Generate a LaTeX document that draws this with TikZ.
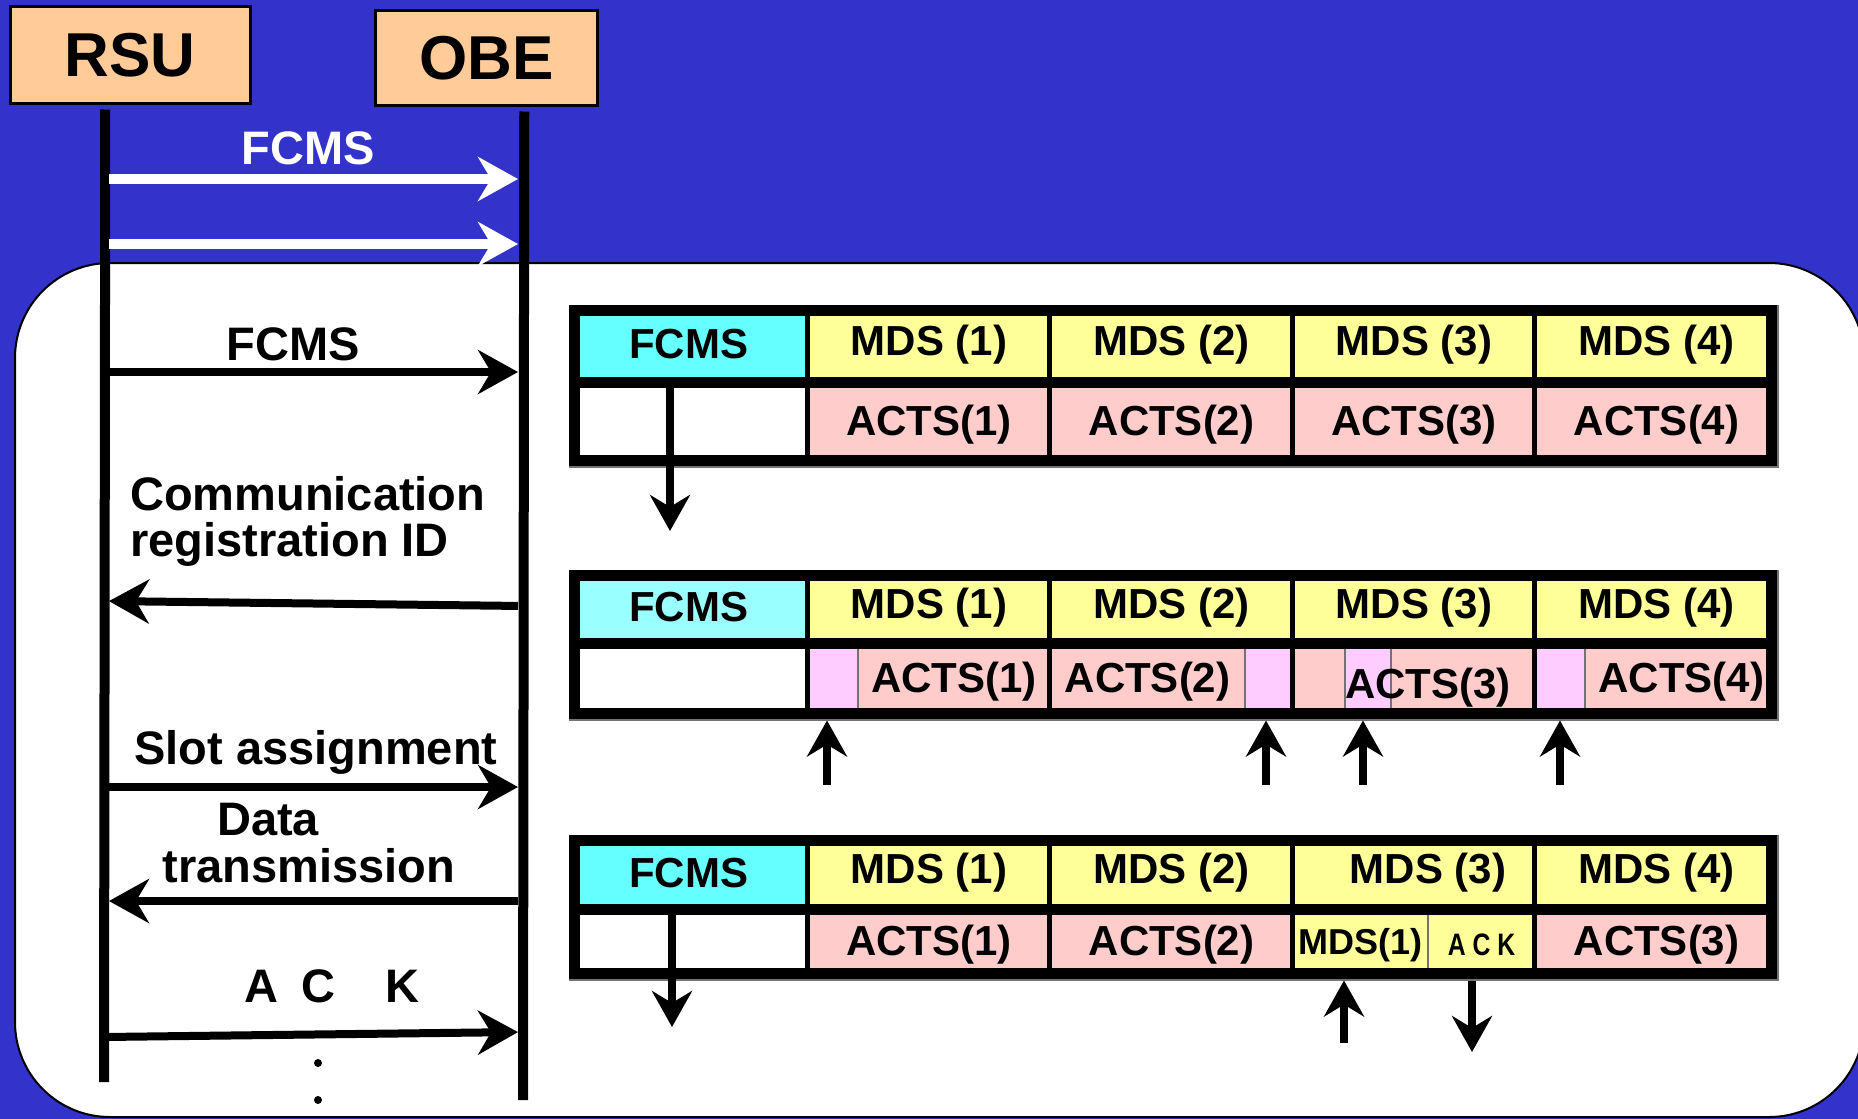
\documentclass[tikz,border=0pt]{standalone}
\usepackage{fontspec}
\setmainfont{Liberation Sans}
\usetikzlibrary{arrows.meta}
\definecolor{bgblue}{HTML}{3333CC}
\definecolor{boxpeach}{HTML}{FFCC99}
\definecolor{fcmscyan}{HTML}{66FFFF}
\definecolor{fcmslight}{HTML}{99FFFF}
\definecolor{mdsyellow}{HTML}{FFFF99}
\definecolor{actspink}{HTML}{FFCCCC}
\definecolor{slotpink}{HTML}{FFCCFF}
\newcommand{\actfont}{\fontsize{62}{64}\selectfont\bfseries}
\newcommand{\msgfont}{\fontsize{47}{46}\selectfont\bfseries}
\newcommand{\cellfont}{\fontsize{42}{44}\selectfont\bfseries}

\begin{document}
\begin{tikzpicture}[x=1pt,y=-1pt,
  actor/.style={draw=black,line width=2.5pt,fill=boxpeach,anchor=north west,inner sep=0pt,font=\actfont},
  lifeline/.style={line width=10pt},
  msg/.style={line width=8pt,shorten <=5pt,shorten >=5pt,-{Stealth[length=40pt,width=44pt,inset=13pt]}},
  whitemsg/.style={msg,white,line width=10pt},
  msgtext/.style={inner sep=0pt,font=\msgfont,anchor=base},
  cell/.style={draw=black!55,line width=1.5pt,anchor=north west,inner sep=0pt,font=\cellfont},
  frame/.style={line width=11pt},
  sep/.style={line width=5pt},
  ptr/.style={line width=8pt,-{Stealth[length=36pt,width=40pt,inset=12pt]}}]
  \useasboundingbox (0,0) rectangle (1858,1119);
  \fill[bgblue] (0,0) rectangle (1858,1119);
  \draw[fill=white,line width=2pt,rounded corners=95pt] (15,263) rectangle (1864,1117);

  % actors and lifelines
  \node[actor,minimum width=240pt,minimum height=97pt] (rsu) at (9,5) {RSU};
  \node[actor,minimum width=222pt,minimum height=95pt] (obe) at (374,9) {OBE};
  \coordinate (rsubot) at (104,1082);
  \coordinate (obebot) at (523,1100);
  \draw[lifeline] ([xshift=-25pt,yshift=-5pt]rsu.south) -- (rsubot);
  \draw[lifeline] ([xshift=38pt,yshift=-5pt]obe.south) -- (obebot);

  % messages
  \draw[whitemsg] (rsubot |- 0,179) -- (obebot |- 0,179);
  \draw[whitemsg] (rsubot |- 0,244) -- (obebot |- 0,244);
  \draw[msg] (rsubot |- 0,372) -- (obebot |- 0,372);
  \draw[msg] (obebot |- 0,606) -- (rsubot |- 0,601);
  \draw[msg] (rsubot |- 0,787) -- (obebot |- 0,787);
  \draw[msg] (obebot |- 0,901) -- (rsubot |- 0,901);
  \draw[msg] (rsubot |- 0,1037) -- (obebot |- 0,1032);
  \node[msgtext,text=white] (lfcmsa) at (308,164) {FCMS};
  \node[msgtext] (lfcmsb) at (293,360) {FCMS};
  \node[msgtext,anchor=north west,align=left] (lreg) at (130,476) {Communication\\registration ID};
  \node[msgtext] (lslot) at (316,764) {Slot assignment};
  \node[msgtext] (ldata) at (268,835) {Data};
  \node[msgtext] (ltrans) at (309,882) {transmission};
  \node[msgtext] (lack) at (332,1002) {A\hspace{24pt}C\hspace{50pt}K};
  \fill (318,1063) circle (4pt);
  \fill (318,1100) circle (4pt);

  % table 1
  \node[cell,fill=fcmscyan,minimum width=238pt,minimum height=77pt] (fa) at (569,305) {FCMS};
  \node[cell,fill=white,minimum width=238pt,minimum height=84pt] (wa) at (569,382) {};
  \foreach \i in {1,...,4} {
    \pgfmathsetmacro{\cx}{807+(\i-1)*242.5}
    \node[cell,fill=mdsyellow,minimum width=242.5pt,minimum height=77pt] (ma\i) at (\cx,305) {MDS (\i)};
    \node[cell,fill=actspink,minimum width=242.5pt,minimum height=84pt] (aa\i) at (\cx,382) {ACTS(\i)};
  }
  \draw[frame] (574.5,310.5) rectangle (1771.5,460.5);
  \draw[frame] (569,382) -- (1777,382);
  \foreach \x in {807,1049.5,1292,1534.5} \draw[sep] (\x,305) -- (\x,466);
  \coordinate (pa) at (670,531);
  \draw[ptr] (wa.north -| pa) -- (pa);

  % table 2
  \node[cell,fill=fcmslight,minimum width=238pt,minimum height=73pt] (fb) at (569,570) {FCMS};
  \node[cell,fill=white,minimum width=238pt,minimum height=76pt] (wb) at (569,643) {};
  \foreach \i in {1,...,4} {
    \pgfmathsetmacro{\cx}{807+(\i-1)*242.5}
    \node[cell,fill=mdsyellow,minimum width=242.5pt,minimum height=73pt] (mb\i) at (\cx,570) {MDS (\i)};
  }
  \foreach \n/\x/\w/\c/\t in {b1/807/50/slotpink/{}, b2/857/192.5/actspink/ACTS(1),
      b3/1049.5/194.5/actspink/ACTS(2), b4/1244/48/slotpink/{}, b5/1292/52/actspink/{},
      b6/1344/46/slotpink/{}, b7/1390/144.5/actspink/{}, b8/1534.5/49.5/slotpink/{},
      b9/1584/193/actspink/ACTS(4)}
    \node[cell,fill=\c,minimum width=\w pt,minimum height=76pt] (\n) at (\x,643) {\t};
  \node[inner sep=0pt,font=\cellfont] (actsc) at (1428,688) {ACTS(3)};
  \draw[frame] (574.5,575.5) rectangle (1771.5,713.5);
  \draw[frame] (569,643) -- (1777,643);
  \foreach \x in {807,1049.5,1292,1534.5} \draw[sep] (\x,570) -- (\x,719);
  \foreach \n/\x in {b1/827,b4/1266,b6/1363,b8/1560} {
    \coordinate (u\n) at (\x,785);
    \draw[ptr] (u\n) -- (u\n |- \n.south);
  }

  % table 3
  \node[cell,fill=fcmscyan,minimum width=238pt,minimum height=74pt] (fc) at (569,835) {FCMS};
  \node[cell,fill=white,minimum width=238pt,minimum height=70pt] (wc) at (569,909) {};
  \foreach \i in {1,...,4} {
    \pgfmathsetmacro{\cx}{807+(\i-1)*242.5}
    \node[cell,fill=mdsyellow,minimum width=242.5pt,minimum height=74pt] (mc\i) at (\cx,835)
      {\ifnum\i=3\hspace*{28pt}\fi MDS (\i)};
  }
  \node[cell,fill=actspink,minimum width=242.5pt,minimum height=70pt] (ac1) at (807,909) {ACTS(1)};
  \node[cell,fill=actspink,minimum width=242.5pt,minimum height=70pt] (ac2) at (1049.5,909) {ACTS(2)};
  \node[cell,fill=mdsyellow,minimum width=135pt,minimum height=70pt,font=\fontsize{36}{38}\selectfont\bfseries] (sm) at (1292,909) {MDS(1)};
  \node[cell,fill=mdsyellow,minimum width=107.5pt,minimum height=70pt,font=\fontsize{31}{33}\selectfont\bfseries] (ak) at (1427,909) {\scalebox{0.8}[1]{A C K}};
  \node[cell,fill=actspink,minimum width=242.5pt,minimum height=70pt] (ac3) at (1534.5,909) {ACTS(3)};
  \draw[frame] (574.5,840.5) rectangle (1771.5,973.5);
  \draw[frame] (569,909) -- (1777,909);
  \foreach \x in {807,1049.5,1292,1534.5} \draw[sep] (\x,835) -- (\x,979);
  \coordinate (pc) at (672,1027);
  \draw[ptr] (wc.north -| pc) -- (pc);
  \coordinate (uc) at (1344,1043);
  \draw[ptr] (uc) -- (uc |- sm.south);
  \coordinate (dc) at (1472,1052);
  \draw[ptr] (dc |- ak.south) -- (dc);
\end{tikzpicture}
\end{document}
